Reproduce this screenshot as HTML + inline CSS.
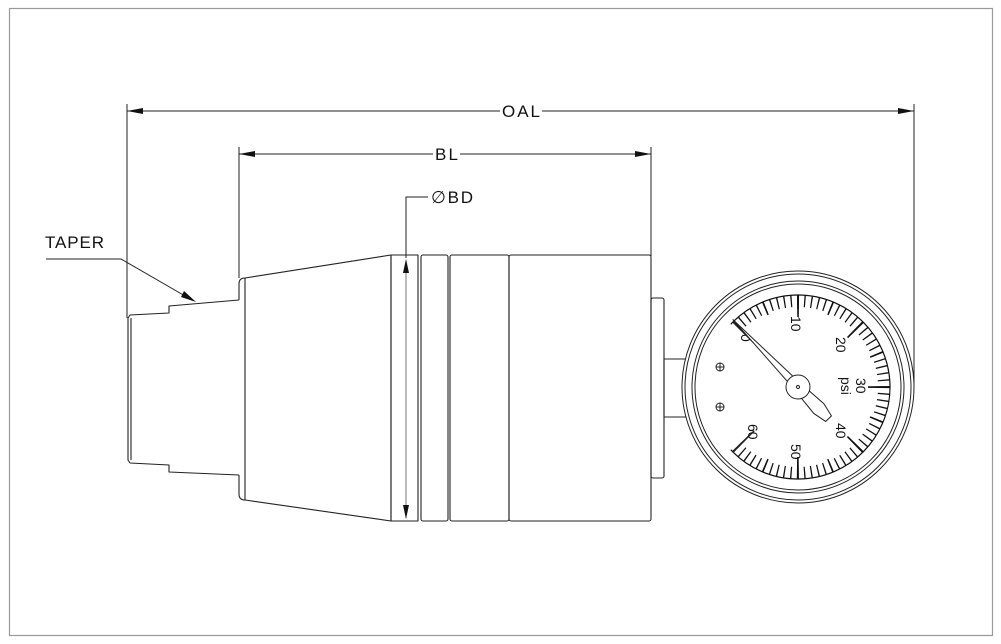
<!DOCTYPE html>
<html><head><meta charset="utf-8"><style>
html,body{margin:0;padding:0;background:#fff;}
svg{display:block;}
text{font-family:"Liberation Sans","DejaVu Sans",sans-serif;fill:#111;}
</style></head><body>
<svg width="1001" height="644" viewBox="0 0 1001 644" xmlns="http://www.w3.org/2000/svg">
<rect x="9.5" y="8.5" width="983" height="627" fill="none" stroke="#999" stroke-width="1.2"/>
<g stroke="#222" stroke-width="1" fill="none">
<line x1="127" y1="104" x2="127" y2="318"/>
<line x1="914" y1="104" x2="914" y2="385"/>
<line x1="127" y1="111" x2="500" y2="111"/>
<line x1="542" y1="111" x2="914" y2="111"/>
<line x1="239" y1="147" x2="239" y2="278"/>
<line x1="651" y1="147" x2="651" y2="256"/>
<line x1="239" y1="154" x2="433" y2="154"/>
<line x1="460" y1="154" x2="651" y2="154"/>
<polyline points="406,258 406,197 428,197"/>
<line x1="406" y1="262" x2="406" y2="518" stroke="#777"/>
<polyline points="46,259 121,259 192,300"/>
</g>
<g fill="#111">
<polygon points="127,111 143,108 143,114"/>
<polygon points="914,111 898,108 898,114"/>
<polygon points="239,154 255,151 255,157"/>
<polygon points="651,154 635,151 635,157"/>
<polygon points="406,259 403,273 409,273"/>
<polygon points="406,519 403,505 409,505"/>
<polygon points="196,302 181,297 184,291"/>
</g>
<text x="502" y="117" font-size="17" textLength="38">OAL</text>
<text x="435" y="160" font-size="17" textLength="23">BL</text>
<text x="431" y="203" font-size="17" textLength="42">∅BD</text>
<text x="45" y="248" font-size="17" textLength="59">TAPER</text>
<g stroke="#222" stroke-width="1.1" fill="none" stroke-linejoin="round">
<polyline points="239,300 169,306 169,313 130,315 128,318 128,460 130,463 169,465 169,472 239,475"/>
<line x1="131" y1="318" x2="131" y2="460"/>
<path d="M239,300 L239,284 Q239,278 245,278 L245,500 Q239,500 239,494 L239,475"/>
<polyline points="245,278 391,255 391,521 245,500"/>
<rect x="391" y="255" width="27" height="266"/>
<rect x="421" y="255" width="27" height="266" rx="2"/>
<rect x="450" y="255" width="59" height="266" rx="2"/>
<rect x="509" y="255" width="142" height="266" rx="2"/>
<rect x="651" y="298" width="13" height="180" rx="2"/>
<rect x="664" y="359" width="22" height="58"/>
</g>
<circle cx="798" cy="387" r="116" fill="#fff" stroke="#222"/>
<g fill="none" stroke="#111" transform="rotate(225 798 387)">
<circle cx="798" cy="387" r="86" stroke-width="12" stroke-dasharray="1.3 5.4544" stroke-dashoffset="0.65"/>
<circle cx="798" cy="387" r="85" stroke-width="14" stroke-dasharray="1.6 31.78" stroke-dashoffset="0.8"/>
<circle cx="798" cy="387" r="81" stroke-width="22" stroke-dasharray="1.8 61.82" stroke-dashoffset="0.9"/>
<circle cx="798" cy="387" r="92" stroke-width="1.2"/>
</g>
<polygon points="798,387 721.2,458.6 693,387 721.2,315.4" fill="#fff"/>
<g stroke="#222" fill="none" stroke-width="1">
<circle cx="798" cy="387" r="113"/>
<circle cx="798" cy="387" r="106"/>
<circle cx="798" cy="387" r="103"/>
<line x1="732.9" y1="321.9" x2="754.2" y2="343.2" stroke-width="1.4"/>
<line x1="732.9" y1="452.1" x2="754.2" y2="430.8" stroke-width="1.4"/>
</g>
<g font-size="14">
<text transform="translate(791,316) rotate(90)">10</text>
<text transform="translate(836,337) rotate(90)">20</text>
<text transform="translate(856,378) rotate(90)">30</text>
<text transform="translate(841,377) rotate(90)">psi</text>
<text transform="translate(836,423) rotate(90)">40</text>
<text transform="translate(791,444) rotate(90)">50</text>
<text transform="translate(748,424) rotate(90)">60</text>
<text transform="translate(741,334) rotate(90)">0</text>
</g>
<g stroke="#222" stroke-width="1" fill="#fff">
<g transform="translate(798,387) rotate(-44)">
<polygon points="0,-94 4,-6 7,30 4,44 -4,44 -7,30 -4,-6"/>
<circle r="12"/>
<circle r="1.5"/>
</g>
<circle cx="720" cy="367" r="4"/>
<circle cx="720" cy="407" r="4"/>
<path d="M716,367 H724 M720,363 V371 M716,407 H724 M720,403 V411"/>
</g>
</svg>
</body></html>
